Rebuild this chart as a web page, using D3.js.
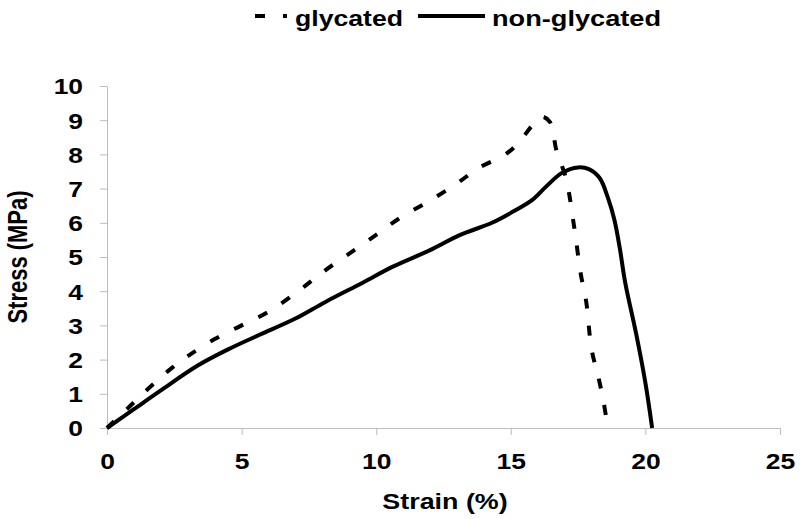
<!DOCTYPE html>
<html lang="en">
<head>
<meta charset="utf-8">
<script src="https://d3js.org/d3.v7.min.js"></script>
<style>
  body { margin: 0; background: #fff; }
  text { font-family: "Liberation Sans", Arial, sans-serif; font-weight: bold; fill: #000; }
</style>
</head>
<body>
<script>
    // strain (%) / stress (MPa)
    var glycStrain = [0, 0.8, 1.6, 2.4, 3.0, 4.0, 5.0, 6.0, 7.1, 8.0, 9.0, 10.0, 10.9, 12.0, 13.0, 13.8, 14.8, 15.3, 15.8, 16.15, 16.45, 16.7, 17.05, 17.35, 17.6, 17.8, 18.0, 18.25, 18.45, 18.6];
    var glycStress = [0, 0.6, 1.2, 1.75, 2.1, 2.6, 3.0, 3.4, 4.0, 4.55, 5.1, 5.65, 6.15, 6.65, 7.15, 7.6, 8.0, 8.35, 8.85, 9.1, 8.95, 8.1, 7.3, 5.9, 4.5, 3.7, 2.3, 1.5, 0.75, 0];

    var nonStrain = [0, 1, 2, 3.4, 4.5, 5.65, 7, 8.1, 9.5, 10.6, 12, 13.1, 14.3, 15.0, 15.8, 16.3, 16.9, 17.5, 17.9, 18.3, 18.6, 18.85, 19.05, 19.25, 19.65, 20.0, 20.25];
    var nonStress = [0, 0.55, 1.1, 1.84, 2.3, 2.72, 3.2, 3.68, 4.25, 4.71, 5.2, 5.64, 6.0, 6.29, 6.67, 7.05, 7.46, 7.62, 7.57, 7.31, 6.75, 6.08, 5.25, 4.25, 2.78, 1.32, 0];

    var xTicks = [0, 5, 10, 15, 20, 25];
    var yTicks = [0, 1, 2, 3, 4, 5, 6, 7, 8, 9, 10];
    var seriesNames = ["glycated", "non-glycated"];

    var width = 800, height = 519;
    var stretch = 1.22;   // the picture is wider than its fonts

    var svg = d3.select("body").append("svg")
                .attr("width", width)
                .attr("height", height);

    var x = d3.scaleLinear().domain([0, 25]).range([107, 780]);
    var y = d3.scaleLinear().domain([0, 10]).range([428, 86]);

    // widen a text selection horizontally
    function widen(sel, k) {
        sel.each(function() {
            var w = this.getComputedTextLength();
            d3.select(this).attr("textLength", w * k).attr("lengthAdjust", "spacingAndGlyphs");
        });
    }

    // x axis
    var xAxis = svg.append("g")
       .attr("transform", "translate(0,428)")
       .call(d3.axisBottom(x).tickValues(xTicks).tickSize(7).tickSizeOuter(0));
    xAxis.select(".domain").attr("stroke", "#bdbdbd");
    xAxis.selectAll(".tick line").attr("stroke", "#bdbdbd");
    xAxis.selectAll(".tick text")
       .attr("y", 41).attr("dy", 0)
       .style("font-size", "22px")
       .call(widen, 1.2);

    // y axis
    var yAxis = svg.append("g")
       .attr("transform", "translate(107,0)")
       .call(d3.axisLeft(y).tickValues(yTicks).tickSize(7).tickSizeOuter(0));
    yAxis.select(".domain").attr("stroke", "#bdbdbd");
    yAxis.selectAll(".tick line").attr("stroke", "#bdbdbd");
    yAxis.selectAll(".tick text")
       .attr("x", -24).attr("dy", "0.36em")
       .style("font-size", "22px")
       .call(widen, 1.2);

    // axis titles
    svg.append("text")
       .attr("x", 445).attr("y", 509)
       .attr("text-anchor", "middle")
       .style("font-size", "22px")
       .text("Strain (%)")
       .call(widen, stretch);

    svg.append("text")
       .attr("transform", "translate(27,257) scale(" + stretch + ",1) rotate(-90)")
       .attr("text-anchor", "middle")
       .style("font-size", "22px")
       .text("Stress (MPa)");

    // lines
    var line = d3.line()
                 .x(function(d) { return x(d[0]); })
                 .y(function(d) { return y(d[1]); })
                 .curve(d3.curveCatmullRom.alpha(0.5));

    var glyc = d3.zip(glycStrain, glycStress);
    var non = d3.zip(nonStrain, nonStress);

    svg.append("path")
       .datum(non)
       .attr("d", line)
       .attr("fill", "none")
       .attr("stroke", "#000")
       .attr("stroke-width", 4);

    svg.append("path")
       .datum(glyc)
       .attr("d", line)
       .attr("fill", "none")
       .attr("stroke", "#000")
       .attr("stroke-width", 4)
       .attr("stroke-dasharray", "10,17");

    // legend
    svg.append("line")
       .attr("x1", 255).attr("x2", 287).attr("y1", 16).attr("y2", 16)
       .attr("stroke", "#000").attr("stroke-width", 4)
       .attr("stroke-dasharray", "10,18");
    svg.append("text")
       .attr("x", 295).attr("y", 26)
       .style("font-size", "22px")
       .text(seriesNames[0])
       .attr("textLength", 108).attr("lengthAdjust", "spacingAndGlyphs");

    svg.append("line")
       .attr("x1", 418).attr("x2", 485).attr("y1", 16).attr("y2", 16)
       .attr("stroke", "#000").attr("stroke-width", 4);
    svg.append("text")
       .attr("x", 492).attr("y", 26)
       .style("font-size", "22px")
       .text(seriesNames[1])
       .attr("textLength", 169).attr("lengthAdjust", "spacingAndGlyphs");
</script>
</body>
</html>
